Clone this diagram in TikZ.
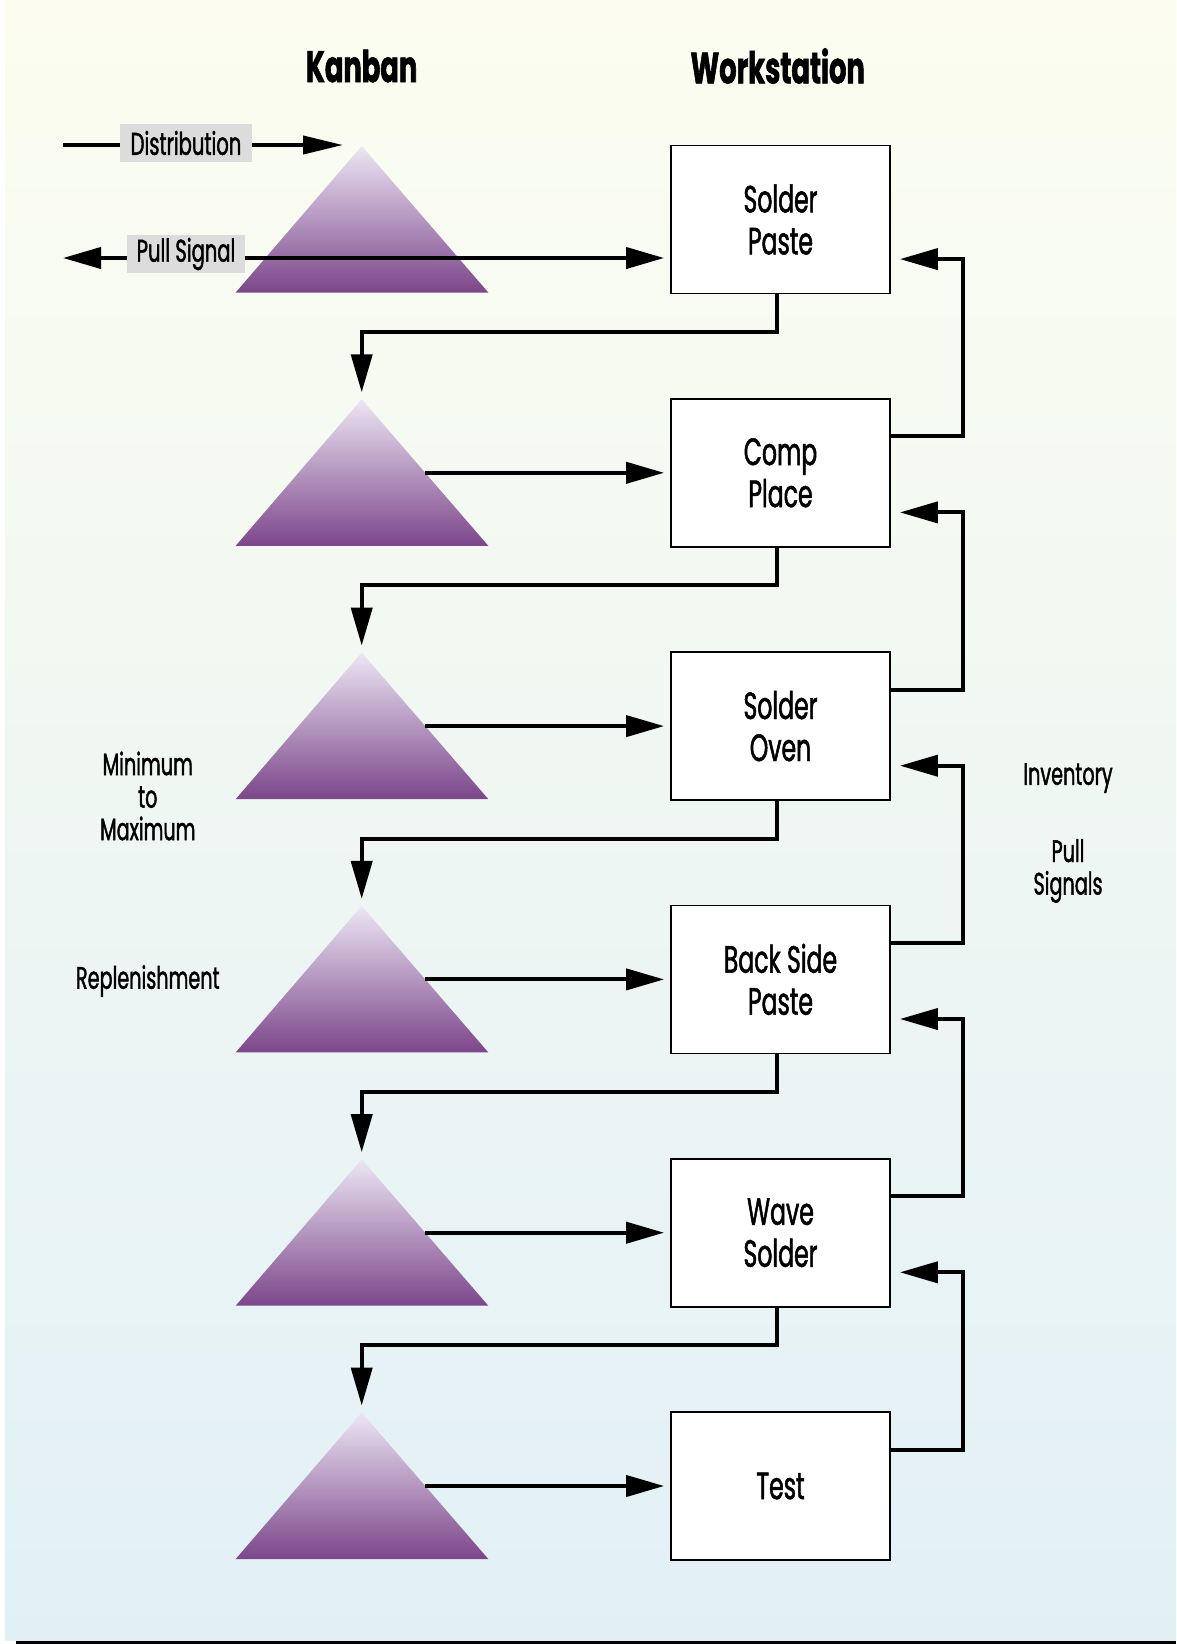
\documentclass[tikz,border=0pt]{standalone}
\usepackage{fontspec}
\setmainfont{Poppins}[FakeStretch=0.62,FakeBold=1.3]
\usetikzlibrary{arrows.meta,calc}
\definecolor{bgTop}{RGB}{252,253,240}
\definecolor{bgBot}{RGB}{226,240,246}
\definecolor{triTop}{RGB}{236,230,244}
\definecolor{triBot}{RGB}{124,70,138}
\definecolor{lblGray}{RGB}{220,220,220}
\begin{document}
\begin{tikzpicture}[x=1pt,y=-1pt,
  conn/.style={line width=4pt,-{Triangle[length=38pt,width=21pt]}},
  plain/.style={line width=4pt},
  wsbox/.style={draw=black,line width=1.8pt,fill=white,minimum width=219pt,minimum height=148pt,
    align=center,inner sep=0pt,font=\fontsize{38}{42}\selectfont},
  lbl/.style={fill=lblGray,inner sep=0pt,minimum height=38pt,font=\fontsize{31.5}{34}\selectfont},
  side/.style={align=center,inner sep=0pt,font=\fontsize{31}{32.5}\selectfont},
  title/.style={inner sep=0pt,font=\bfseries\fontsize{44}{48}\selectfont}]
\useasboundingbox (0,0) rectangle (1176,1644);
\shade[top color=bgTop,bottom color=bgBot] (5,0) rectangle (1176,1640);
\draw[line width=3pt] (16,1642.5) -- (1176,1642.5);

% titles
\node[title] (tk) at (361.6,66) {Kanban};
\node[title] (tw) at (777.7,66) {Workstation};

% kanban triangles
\foreach \n/\a in {1/146,2/399.3,3/652.6,4/905.9,5/1159.2,6/1412.5}{
  \shade[top color=triTop,bottom color=triBot] (235.7,\a+146.5) -- (361.7,\a) -- (488.3,\a+146.5) -- cycle;
  \coordinate (k\n) at (361.7,\a);
  \coordinate (k\n e) at (425.3,\a+73.5);
}

% workstations
\node[wsbox] (b1) at (780.5,219.5) {Solder\\Paste};
\node[wsbox] (b2) at (780.5,472.8) {Comp\\Place};
\node[wsbox] (b3) at (780.5,726.1) {Solder\\Oven};
\node[wsbox] (b4) at (780.5,979.4) {Back Side\\Paste};
\node[wsbox] (b5) at (780.5,1232.7) {Wave\\Solder};
\node[wsbox] (b6) at (780.5,1486) {Test};

% distribution / pull signal
\node[lbl,minimum width=132pt] (dl) at (186,143) {Distribution};
\node[lbl,minimum width=118pt] (pl) at (186,254) {Pull Signal};
\coordinate (distStart) at (63,145);
\coordinate (distEnd) at (343,145);
\coordinate (pullEnd) at (63,258);
\draw[plain] (distStart) -- (dl.west |- distStart);
\draw[line width=4pt,-{Triangle[length=40pt,width=18pt]}] (dl.east |- distEnd) -- (distEnd);
\draw[conn] ([yshift=-4pt]pl.west) -- (pullEnd);
\draw[conn,shorten >=6pt] ([yshift=-4pt]pl.east) -- (b1.west |- 0,258);

% kanban -> workstation
\foreach \n in {2,...,6}{
  \draw[conn,shorten >=6pt] (k\n e) -- (b\n.west);
}

% workstation -> next kanban
\foreach \i/\j in {1/2,2/3,3/4,4/5,5/6}{
  \draw[conn] ($(b\i.south)+(-3.5,0)$) -- ++(0,37.5) -| ($(k\j)+(0,-7)$);
}

% inventory pull signals
\foreach \i/\j in {1/2,2/3,3/4,4/5,5/6}{
  \draw[conn] ($(b\j.north east)+(0,38.5)$) -- ++(72,0) |- ($(b\i.north east)+(9,114.5)$);
}

% side labels
\node[side] (mm) at (147.8,796) {Minimum\\to\\Maximum};
\node[side] (rp) at (147.8,981) {Replenishment};
\node[side] (inv) at (1068,778) {Inventory};
\node[side] (ps) at (1068,871) {Pull\\Signals};
\end{tikzpicture}
\end{document}
